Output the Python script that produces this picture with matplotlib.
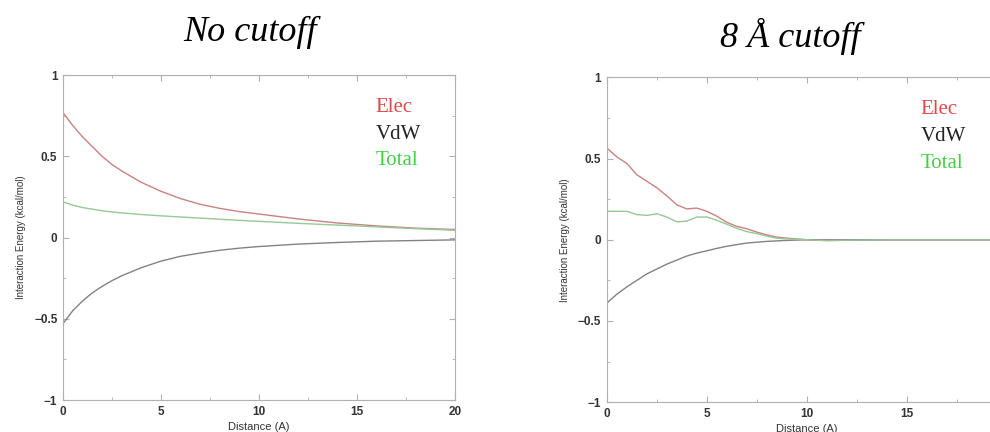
import matplotlib.pyplot as plt
from matplotlib.ticker import FixedLocator, FixedFormatter, MultipleLocator

# ---- data ----
x_nocut = [0, 0.5, 1, 1.5, 2, 2.5, 3, 4, 5, 6, 7, 8, 9, 10, 12, 14, 16, 18, 20]
elec_nocut = [0.77, 0.69, 0.62, 0.56, 0.50, 0.45, 0.41, 0.34, 0.285, 0.24, 0.205,
              0.18, 0.16, 0.145, 0.115, 0.09, 0.072, 0.058, 0.05]
vdw_nocut = [-0.53, -0.45, -0.39, -0.34, -0.30, -0.265, -0.235, -0.185, -0.145, -0.115,
             -0.095, -0.078, -0.065, -0.055, -0.04, -0.03, -0.022, -0.018, -0.014]
total_nocut = [0.22, 0.2, 0.185, 0.175, 0.165, 0.158, 0.152, 0.142, 0.134, 0.127, 0.12,
               0.113, 0.106, 0.1, 0.088, 0.077, 0.066, 0.055, 0.045]

x_cut = [0, 0.5, 1, 1.5, 2, 2.5, 3, 3.5, 4, 4.5, 5, 5.5, 6, 6.5, 7, 7.5, 8, 8.5, 9,
         10, 11, 12, 14, 16, 18, 20]
elec_cut = [0.565, 0.51, 0.47, 0.40, 0.36, 0.32, 0.27, 0.215, 0.19, 0.195, 0.175, 0.145,
            0.107, 0.082, 0.068, 0.047, 0.03, 0.016, 0.01, 0.0, -0.005, -0.003, 0, 0, 0, 0]
vdw_cut = [-0.39, -0.335, -0.29, -0.25, -0.21, -0.18, -0.15, -0.125, -0.1, -0.082, -0.068,
           -0.053, -0.04, -0.03, -0.02, -0.015, -0.01, -0.007, -0.004, 0, 0, 0, 0, 0, 0, 0]
total_cut = [0.175, 0.175, 0.175, 0.155, 0.15, 0.16, 0.14, 0.11, 0.115, 0.14, 0.14, 0.12,
             0.095, 0.07, 0.05, 0.038, 0.022, 0.01, 0.005, 0.0, -0.005, -0.003, 0, 0, 0, 0]

y_ticks = [-1, -0.5, 0, 0.5, 1]
y_labels = ['\u22121', '\u22120.5', '0', '0.5', '1']
x_ticks = [0, 5, 10, 15, 20]
x_labels = ['0', '5', '10', '15', '20']
x_labels_cut = ['0', '5', '10', '15', '']   # the 20 falls off the picture's edge

elec_c = '#c98282'
vdw_c = '#858085'
total_c = '#96c896'

fig = plt.figure(figsize=(9.9, 4.32), dpi=100)
ax1 = fig.add_axes([0.0636, 0.074, 0.396, 0.752])
ax2 = fig.add_axes([0.613, 0.069, 0.404, 0.752])


def style(ax, xlabels):
    ax.set_xlim(0, 20)
    ax.set_ylim(-1, 1)
    for s in ax.spines.values():
        s.set_color('#b0b0b0')
        s.set_linewidth(0.8)
    ax.xaxis.set_major_locator(FixedLocator(x_ticks))
    ax.xaxis.set_major_formatter(FixedFormatter(xlabels))
    ax.yaxis.set_major_locator(FixedLocator(y_ticks))
    ax.yaxis.set_major_formatter(FixedFormatter(y_labels))
    ax.xaxis.set_minor_locator(MultipleLocator(2.5))
    ax.yaxis.set_minor_locator(MultipleLocator(0.25))
    ax.tick_params(which='both', direction='in', top=True, right=True,
                   color='#b0b0b0', labelsize=8.5, labelcolor='#333333', pad=4)
    ax.tick_params(which='major', length=4)
    ax.tick_params(which='minor', length=2)
    for t in ax.get_xticklabels() + ax.get_yticklabels():
        t.set_fontweight('bold')
        t.set_family('Liberation Sans')
    ax.set_xlabel('Distance (A)', fontsize=8, family='Liberation Sans',
                  color='#333333', labelpad=3)
    ax.set_ylabel('Interaction Energy (kcal/mol)', fontsize=7, family='Liberation Sans',
                  color='#333333', labelpad=6)


ax1.plot(x_nocut, elec_nocut, color=elec_c, lw=1)
ax1.plot(x_nocut, vdw_nocut, color=vdw_c, lw=1)
ax1.plot(x_nocut, total_nocut, color=total_c, lw=1)
style(ax1, x_labels)

ax2.plot(x_cut, elec_cut, color=elec_c, lw=1)
ax2.plot(x_cut, vdw_cut, color=vdw_c, lw=1)
ax2.plot(x_cut, total_cut, color=total_c, lw=1)
style(ax2, x_labels_cut)

for ax, xp, yp in [(ax1, 0.797, 0.90), (ax2, 0.785, 0.90)]:
    for i, (name, c) in enumerate([('Elec', '#e04848'), ('VdW', '#222222'),
                                   ('Total', '#44d044')]):
        ax.text(xp, yp - i * 0.082, name, transform=ax.transAxes, color=c,
                fontsize=15, family='Liberation Serif', va='center', ha='left')

fig.text(0.253, 0.925, 'No cutoff', fontsize=26, style='italic',
         family='Liberation Serif', ha='center', va='center')
fig.text(0.798, 0.915, '8 \u00c5 cutoff', fontsize=26, style='italic',
         family='Liberation Serif', ha='center', va='center')

fig.savefig('out.png', dpi=100)
